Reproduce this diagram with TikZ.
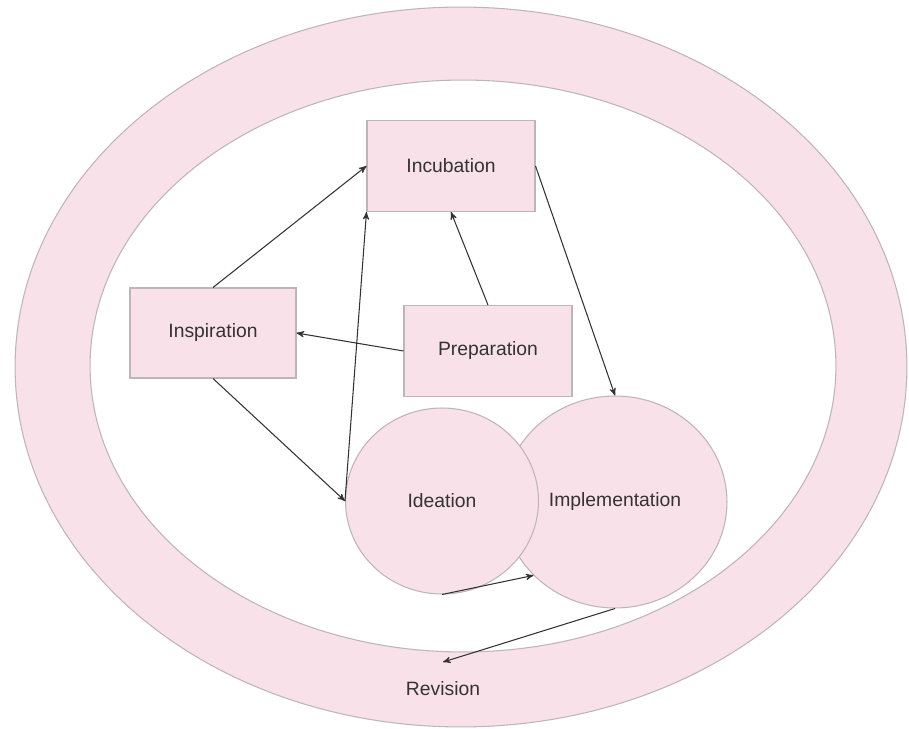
\documentclass[tikz,border=0pt]{standalone}
\usepackage{fontspec}
\setmainfont{Liberation Sans}
\usetikzlibrary{arrows,shapes.geometric}
\definecolor{ringpink}{HTML}{F9E1E9}
\definecolor{edgegrey}{HTML}{BDB5B8}
\definecolor{inkgrey}{HTML}{333333}

\begin{document}
\begin{tikzpicture}[->,>=stealth',x=0.02cm,y=-0.02cm,
                    semithick,color=inkgrey]
\tikzstyle{every node}=[font=\fontsize{11}{13}\selectfont,text=inkgrey,inner sep=0pt]
  	\tikzstyle{stage}=[rectangle,draw=edgegrey,fill=ringpink,minimum width=3.36cm,minimum height=1.82cm]
  	\tikzstyle{blob}=[ellipse,draw=edgegrey,fill=ringpink]
\useasboundingbox (0,0) rectangle (909,729);

% the ring
\filldraw [-,draw=edgegrey,fill=ringpink] (461,367) ellipse [x radius=8.92cm,y radius=7.2cm];
\filldraw [-,draw=edgegrey,fill=white] (463,366) ellipse [x radius=7.46cm,y radius=5.72cm];

\node [stage] (incubation) at (451,166) {Incubation};
\node [stage,minimum width=3.32cm,minimum height=1.8cm] (inspiration) at (213,333) {Inspiration};
\node [stage] (preparation) at (488,351) {Preparation};

\node [blob,minimum width=4.48cm,minimum height=4.24cm] (implementation) at (615,502) {Implementation};
\node [blob,minimum width=3.86cm,minimum height=3.72cm] (ideation) at (442,501) {Ideation};

\node [inner ysep=11pt] (revision) at (443,689) {Revision};

\path (inspiration.north) edge node {} (incubation.west)
	   (ideation.west) edge node {} (incubation.south west)
	   (preparation.north) edge node {} (incubation.south)
	   (preparation.west) edge node {} (inspiration.east)
	   (inspiration.south) edge node {} (ideation.west)

	   (incubation.east) edge node {} (implementation.north)
	   (ideation.south) edge node {} (implementation.222)
	   (implementation.south) edge node {} (revision.north);

	\end{tikzpicture}
\end{document}
